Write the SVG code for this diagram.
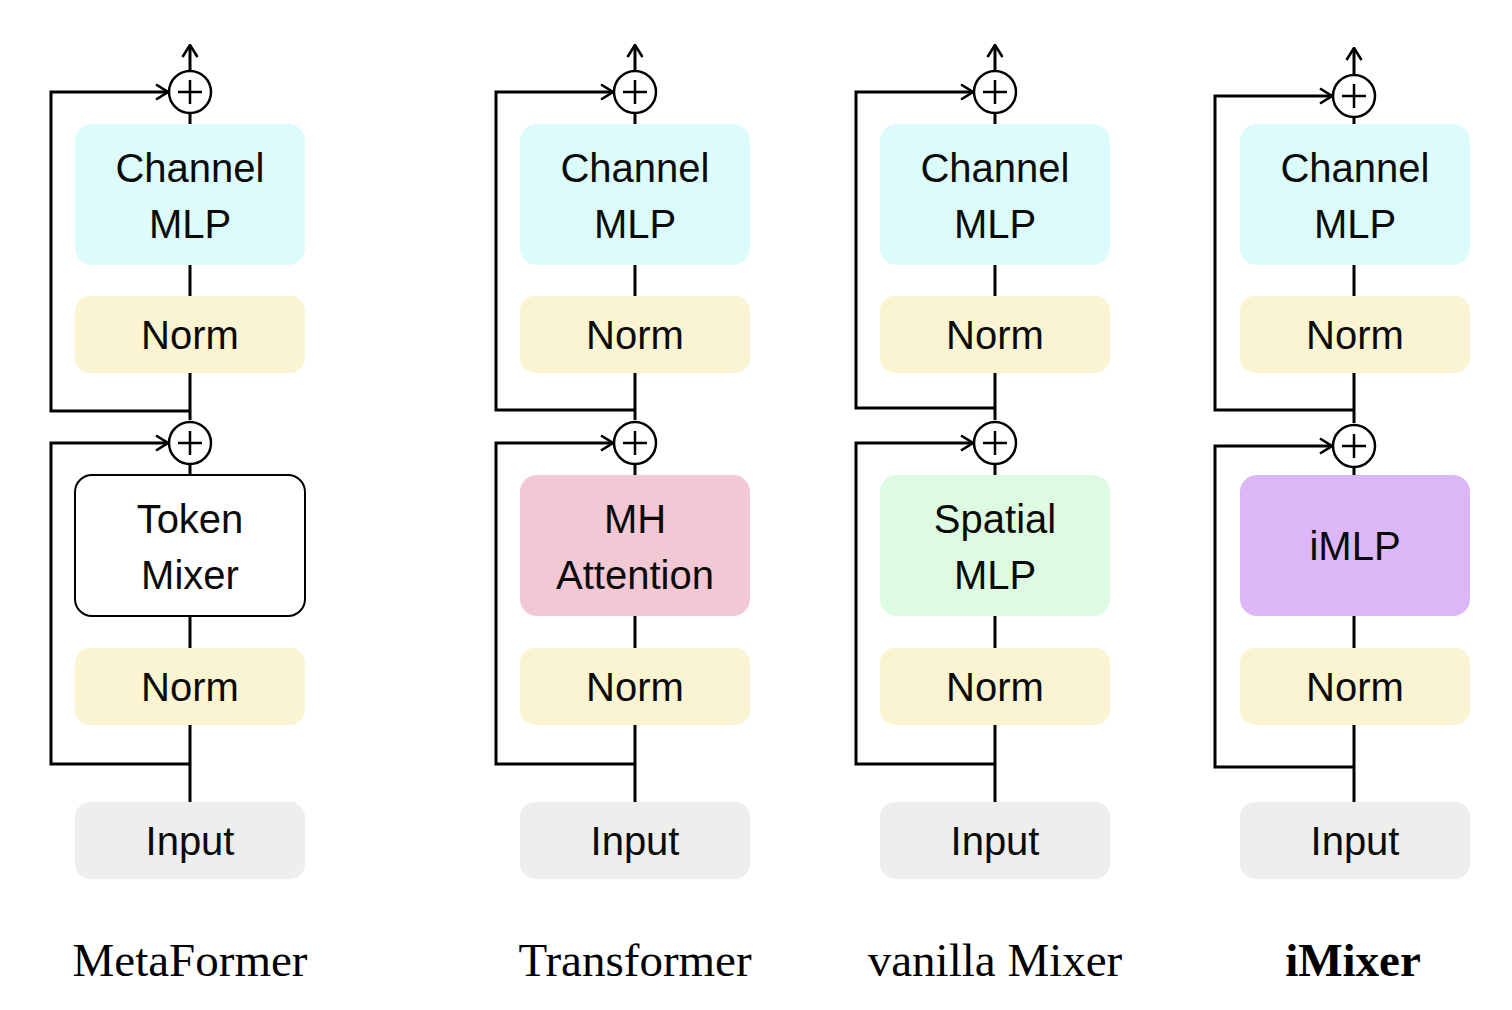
<svg xmlns="http://www.w3.org/2000/svg" width="1512" height="1010" viewBox="0 0 1512 1010">
<style>
.box{stroke:none}
.cm{fill:#dcfbfb}
.nm{fill:#faf4d3}
.in{fill:#eeeeee}
.tm{fill:#ffffff;stroke:#000;stroke-width:2}
.mh{fill:#f2c8d4}
.sp{fill:#dcfbe0}
.im{fill:#dcb7f8}
.t{font-family:"Liberation Sans",Arial,sans-serif;font-size:40px;fill:#0a0a0a;text-anchor:middle}
.lab{font-family:"Liberation Serif","Times New Roman",serif;font-size:47px;fill:#000;text-anchor:middle}
.ln{fill:none;stroke:#000;stroke-width:3}
.pc{fill:#fff;stroke:#000;stroke-width:2.5}
.ps{stroke:#000;stroke-width:2.5}
</style>
<defs>
<marker id="ah" viewBox="0 0 14 18" refX="13" refY="9" markerWidth="14" markerHeight="18" markerUnits="userSpaceOnUse" orient="auto">
<path d="M1,1.5 L13,9 L1,16.5" fill="none" stroke="#000" stroke-width="2.6"/>
</marker>
</defs>

<g id="connectors">
<!-- col1 -->
<path class="ln" d="M190,125 V113 M190,296 V264 M190,420 V372 M190,476 V464 M190,648 V615 M190,802 V724"/>
<path class="ln" d="M190,411 H51 V92 H168" marker-end="url(#ah)"/>
<path class="ln" d="M190,764 H51 V443 H168" marker-end="url(#ah)"/>
<path class="ln" d="M190,71 V45" marker-end="url(#ah)"/>
<!-- col2 -->
<path class="ln" d="M635,125 V113 M635,296 V264 M635,420 V372 M635,476 V464 M635,648 V615 M635,802 V724"/>
<path class="ln" d="M635,410 H496 V92 H613" marker-end="url(#ah)"/>
<path class="ln" d="M635,764 H496 V443 H613" marker-end="url(#ah)"/>
<path class="ln" d="M635,71 V45" marker-end="url(#ah)"/>
<!-- col3 -->
<path class="ln" d="M995,125 V113 M995,296 V264 M995,420 V372 M995,476 V464 M995,648 V615 M995,802 V724"/>
<path class="ln" d="M995,408 H856 V92 H973" marker-end="url(#ah)"/>
<path class="ln" d="M995,764 H856 V443 H973" marker-end="url(#ah)"/>
<path class="ln" d="M995,71 V45" marker-end="url(#ah)"/>
<!-- col4 -->
<path class="ln" d="M1354,125 V117 M1354,296 V264 M1354,423 V372 M1354,476 V467 M1354,648 V615 M1354,802 V724"/>
<path class="ln" d="M1354,410 H1215 V96 H1332" marker-end="url(#ah)"/>
<path class="ln" d="M1354,767 H1215 V446 H1332" marker-end="url(#ah)"/>
<path class="ln" d="M1354,75 V48" marker-end="url(#ah)"/>
</g>

<!-- plus nodes -->
<g id="plus1a"><circle class="pc" cx="190" cy="92" r="21"/><path class="ps" d="M178,92 H202 M190,80 V104"/></g>
<g id="plus1b"><circle class="pc" cx="190" cy="443" r="21"/><path class="ps" d="M178,443 H202 M190,431 V455"/></g>
<g id="plus2a"><circle class="pc" cx="635" cy="92" r="21"/><path class="ps" d="M623,92 H647 M635,80 V104"/></g>
<g id="plus2b"><circle class="pc" cx="635" cy="443" r="21"/><path class="ps" d="M623,443 H647 M635,431 V455"/></g>
<g id="plus3a"><circle class="pc" cx="995" cy="92" r="21"/><path class="ps" d="M983,92 H1007 M995,80 V104"/></g>
<g id="plus3b"><circle class="pc" cx="995" cy="443" r="21"/><path class="ps" d="M983,443 H1007 M995,431 V455"/></g>
<g id="plus4a"><circle class="pc" cx="1354" cy="96" r="21"/><path class="ps" d="M1342,96 H1366 M1354,84 V108"/></g>
<g id="plus4b"><circle class="pc" cx="1354" cy="446" r="21"/><path class="ps" d="M1342,446 H1366 M1354,434 V458"/></g>

<!-- column 1 -->
<g id="c1-cmlp"><rect class="box cm" x="75" y="124" width="230" height="141" rx="17"/><text class="t" x="190" y="182">Channel</text><text class="t" x="190" y="238">MLP</text></g>
<g id="c1-norm1"><rect class="box nm" x="75" y="296" width="230" height="77" rx="15"/><text class="t" x="190" y="349">Norm</text></g>
<g id="c1-tok"><rect class="tm" x="75" y="475" width="230" height="141" rx="17"/><text class="t" x="190" y="533">Token</text><text class="t" x="190" y="589">Mixer</text></g>
<g id="c1-norm2"><rect class="box nm" x="75" y="648" width="230" height="77" rx="15"/><text class="t" x="190" y="701">Norm</text></g>
<g id="c1-in"><rect class="box in" x="75" y="802" width="230" height="77" rx="15"/><text class="t" x="190" y="855">Input</text></g>

<!-- column 2 -->
<g id="c2-cmlp"><rect class="box cm" x="520" y="124" width="230" height="141" rx="17"/><text class="t" x="635" y="182">Channel</text><text class="t" x="635" y="238">MLP</text></g>
<g id="c2-norm1"><rect class="box nm" x="520" y="296" width="230" height="77" rx="15"/><text class="t" x="635" y="349">Norm</text></g>
<g id="c2-mh"><rect class="box mh" x="520" y="475" width="230" height="141" rx="17"/><text class="t" x="635" y="533">MH</text><text class="t" x="635" y="589">Attention</text></g>
<g id="c2-norm2"><rect class="box nm" x="520" y="648" width="230" height="77" rx="15"/><text class="t" x="635" y="701">Norm</text></g>
<g id="c2-in"><rect class="box in" x="520" y="802" width="230" height="77" rx="15"/><text class="t" x="635" y="855">Input</text></g>

<!-- column 3 -->
<g id="c3-cmlp"><rect class="box cm" x="880" y="124" width="230" height="141" rx="17"/><text class="t" x="995" y="182">Channel</text><text class="t" x="995" y="238">MLP</text></g>
<g id="c3-norm1"><rect class="box nm" x="880" y="296" width="230" height="77" rx="15"/><text class="t" x="995" y="349">Norm</text></g>
<g id="c3-sp"><rect class="box sp" x="880" y="475" width="230" height="141" rx="17"/><text class="t" x="995" y="533">Spatial</text><text class="t" x="995" y="589">MLP</text></g>
<g id="c3-norm2"><rect class="box nm" x="880" y="648" width="230" height="77" rx="15"/><text class="t" x="995" y="701">Norm</text></g>
<g id="c3-in"><rect class="box in" x="880" y="802" width="230" height="77" rx="15"/><text class="t" x="995" y="855">Input</text></g>

<!-- column 4 -->
<g id="c4-cmlp"><rect class="box cm" x="1240" y="124" width="230" height="141" rx="17"/><text class="t" x="1355" y="182">Channel</text><text class="t" x="1355" y="238">MLP</text></g>
<g id="c4-norm1"><rect class="box nm" x="1240" y="296" width="230" height="77" rx="15"/><text class="t" x="1355" y="349">Norm</text></g>
<g id="c4-im"><rect class="box im" x="1240" y="475" width="230" height="141" rx="17"/><text class="t" x="1355" y="560">iMLP</text></g>
<g id="c4-norm2"><rect class="box nm" x="1240" y="648" width="230" height="77" rx="15"/><text class="t" x="1355" y="701">Norm</text></g>
<g id="c4-in"><rect class="box in" x="1240" y="802" width="230" height="77" rx="15"/><text class="t" x="1355" y="855">Input</text></g>

<!-- labels -->
<g id="labels">
<text class="lab" x="190" y="976">MetaFormer</text>
<text class="lab" x="635" y="976">Transformer</text>
<text class="lab" x="995" y="976">vanilla Mixer</text>
<text class="lab" x="1353" y="976" font-weight="bold">iMixer</text>
</g>
</svg>
